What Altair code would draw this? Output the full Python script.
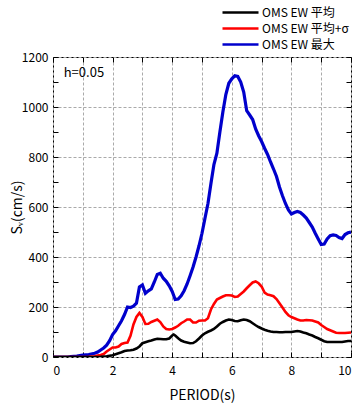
import altair as alt
import pandas as pd

series_names = ["OMS EW 平均", "OMS EW 平均+σ", "OMS EW 最大"]
series_colors = ["#000000", "#ff0000", "#0000cc"]

max_period = [0, 0.5, 0.6, 0.8, 1.0, 1.2, 1.4, 1.5, 1.6, 1.7, 1.8, 1.9, 2.0, 2.1, 2.2, 2.3, 2.4, 2.5,
              2.6, 2.7, 2.8, 2.9, 3.0, 3.1, 3.2, 3.3, 3.4, 3.5, 3.6, 3.7, 3.8, 3.9, 4.0, 4.1, 4.2, 4.3,
              4.4, 4.5, 4.6, 4.7, 4.8, 4.9, 5.0, 5.1, 5.2, 5.3, 5.4, 5.5, 5.6, 5.7, 5.8, 5.9, 6.0, 6.1,
              6.2, 6.3, 6.4, 6.5, 6.6, 6.7, 6.8, 6.9, 7.0, 7.1, 7.2, 7.3, 7.4, 7.5, 7.6, 7.7, 7.8, 7.9,
              8.0, 8.1, 8.2, 8.3, 8.4, 8.5, 8.6, 8.7, 8.8, 8.9, 9.0, 9.1, 9.2, 9.3, 9.4, 9.5, 9.6, 9.7,
              9.8, 9.9, 10.0]
max_sv = [0, 0, 2, 4, 8, 10, 15, 20, 28, 36, 47, 65, 90, 105, 125, 145, 170, 200,
          198, 203, 215, 280, 288, 255, 265, 272, 300, 330, 335, 315, 303, 285, 262, 230, 232, 245,
          265, 292, 325, 360, 400, 445, 495, 555, 614, 694, 770, 815, 900, 980, 1050, 1095, 1113, 1125,
          1122, 1100, 1060, 985, 968, 950, 912, 885, 862, 835, 810, 780, 752, 722, 680, 645, 614, 588,
          572, 578, 582, 578, 568, 556, 538, 520, 495, 472, 450, 452, 472, 485, 488, 486, 478, 474,
          490, 497, 500]

sig_period = [0, 1.0, 1.2, 1.4, 1.5, 1.6, 1.7, 1.8, 1.9, 2.0, 2.1, 2.2, 2.3, 2.4, 2.5, 2.6, 2.7, 2.8,
              2.9, 3.0, 3.1, 3.2, 3.3, 3.4, 3.5, 3.6, 3.7, 3.8, 3.9, 4.0, 4.1, 4.2, 4.3, 4.4, 4.5, 4.6,
              4.7, 4.8, 4.9, 5.0, 5.1, 5.2, 5.3, 5.4, 5.5, 5.6, 5.7, 5.8, 5.9, 6.0, 6.1, 6.2, 6.3, 6.4,
              6.5, 6.6, 6.7, 6.8, 6.9, 7.0, 7.1, 7.2, 7.3, 7.4, 7.5, 7.6, 7.7, 7.8, 7.9, 8.0, 8.1, 8.2,
              8.3, 8.4, 8.5, 8.6, 8.7, 8.8, 8.9, 9.0, 9.1, 9.2, 9.3, 9.4, 9.5, 9.6, 9.7, 9.8, 9.9, 10.0]
sig_sv = [0, 0, 1, 3, 6, 8, 12, 22, 30, 38, 38, 42, 52, 56, 58, 85, 130, 160,
          176, 160, 132, 133, 140, 145, 150, 140, 122, 112, 110, 112, 118, 125, 135, 142, 150, 150,
          138, 138, 145, 146, 146, 155, 190, 212, 230, 236, 242, 247, 247, 246, 240, 242, 252, 262,
          275, 287, 298, 302, 295, 282, 258, 250, 247, 243, 232, 215, 198, 180, 167, 160, 155, 150,
          146, 146, 148, 147, 146, 142, 138, 128, 120, 112, 107, 102, 97, 96, 96, 96, 97, 98]

mean_period = [0, 1.4, 1.6, 1.8, 2.0, 2.1, 2.2, 2.3, 2.4, 2.5, 2.6, 2.7, 2.8, 2.9, 3.0, 3.1, 3.2, 3.3,
               3.4, 3.5, 3.6, 3.7, 3.8, 3.9, 4.0, 4.05, 4.1, 4.2, 4.3, 4.4, 4.5, 4.6, 4.7, 4.8, 4.9, 5.0,
               5.1, 5.2, 5.3, 5.4, 5.5, 5.6, 5.7, 5.8, 5.9, 6.0, 6.1, 6.2, 6.3, 6.4, 6.5, 6.6, 6.7, 6.8,
               6.9, 7.0, 7.1, 7.2, 7.3, 7.4, 7.5, 7.6, 7.7, 7.8, 7.9, 8.0, 8.1, 8.2, 8.3, 8.4, 8.5, 8.6,
               8.7, 8.8, 8.9, 9.0, 9.1, 9.2, 9.3, 9.4, 9.5, 9.6, 9.7, 9.8, 9.9, 10.0]
mean_sv = [0, 0, 1, 3, 7, 11, 15, 19, 24, 26, 27, 29, 34, 42, 55, 59, 63, 66,
           70, 73, 72, 71, 71, 74, 86, 90, 86, 75, 66, 61, 58, 55, 56, 63, 74, 86,
           95, 101, 106, 112, 122, 133, 140, 146, 150, 148, 144, 143, 147, 150, 148, 143, 135, 127,
           120, 114, 109, 105, 102, 100, 100, 99, 99, 100, 100, 100, 102, 104, 102, 98, 95, 90,
           86, 80, 75, 69, 63, 60, 60, 60, 60, 60, 60, 62, 64, 64]

x_ticks = [0, 1, 2, 3, 4, 5, 6, 7, 8, 9, 10]
y_grid = [0, 200, 400, 600, 800, 1000, 1200]
y_ticks = [0, 100, 200, 300, 400, 500, 600, 700, 800, 900, 1000, 1100, 1200]

annotation = ["h=0.05"]
annotation_x = [0.36]
annotation_y = [1135]

FONT = "Noto Sans CJK JP"

df_max = pd.DataFrame({"period": max_period, "sv": max_sv, "series": series_names[2]})
df_sig = pd.DataFrame({"period": sig_period, "sv": sig_sv, "series": series_names[1]})
df_mean = pd.DataFrame({"period": mean_period, "sv": mean_sv, "series": series_names[0]})
df_ann = pd.DataFrame({"x": annotation_x, "y": annotation_y, "t": annotation})

xs = alt.Scale(domain=[0, 10], nice=False, zero=False)
ys = alt.Scale(domain=[0, 1200], nice=False)
color_scale = alt.Scale(domain=series_names, range=series_colors)

legend = alt.Legend(
    title=None, orient="none", legendX=180, legendY=-52, padding=0,
    symbolType="M-3,0H3", symbolSize=144, symbolStrokeWidth=2.5,
    labelFont=FONT, labelFontSize=12, labelColor="#000", labelOffset=14,
    rowPadding=2, symbolOffset=0,
)

x_main = alt.Axis(
    orient="bottom", values=x_ticks, ticks=False, domain=False,
    labelExpr="datum.value % 2 == 0 ? datum.label : ''",
    labelFont=FONT, labelFontSize=12, labelColor="#000", labelPadding=8,
    grid=True, gridColor="#aaaaaa", gridDash=[3, 2], gridWidth=1,
    title="PERIOD(s)", titleFont=FONT, titleFontSize=14, titleFontWeight="normal",
    titleColor="#000", titleY=38, titleBaseline="middle",
)
y_main = alt.Axis(
    orient="left", values=y_grid, ticks=False, domain=False, format="d",
    labelFont=FONT, labelFontSize=12, labelColor="#000", labelPadding=5,
    grid=True, gridColor="#aaaaaa", gridDash=[3, 2], gridWidth=1,
    title="Sᵥ(cm/s)", titleFont=FONT, titleFontSize=14, titleFontWeight="normal",
    titleColor="#000", titleX=-36, titleY=150, titleAngle=-90,
    titleAlign="center", titleBaseline="middle",
)


def tick_axis(orient, values, offset):
    return alt.Axis(orient=orient, values=values, offset=offset, labels=False, domain=False,
                    grid=False, ticks=True, tickSize=5, tickColor="#000", tickWidth=1, title=None)


def line(df, width, main=False):
    return alt.Chart(df).mark_line(strokeWidth=width, clip=True).encode(
        x=alt.X("period:Q", scale=xs, axis=x_main if main else None),
        y=alt.Y("sv:Q", scale=ys, axis=y_main if main else None),
        color=alt.Color("series:N", scale=color_scale, legend=legend, sort=series_names),
    )


ticks_a = alt.Chart(df_mean).mark_point(opacity=0).encode(
    x=alt.X("period:Q", scale=xs, axis=tick_axis("top", x_ticks, -300)),
    y=alt.Y("sv:Q", scale=ys, axis=tick_axis("right", y_ticks, -298)),
)
ticks_b = alt.Chart(df_mean).mark_point(opacity=0).encode(
    x=alt.X("period:Q", scale=xs, axis=tick_axis("bottom", x_ticks, -300)),
    y=alt.Y("sv:Q", scale=ys, axis=tick_axis("left", y_ticks, -298)),
)

ann = alt.Chart(df_ann).mark_text(align="left", baseline="middle", font=FONT, fontSize=13,
                                  color="#000").encode(
    x=alt.X("x:Q", scale=xs, axis=None),
    y=alt.Y("y:Q", scale=ys, axis=None),
    text="t:N",
)

chart = alt.layer(
    line(df_max, 3.2, main=True), line(df_sig, 2.6), line(df_mean, 2.6),
    ticks_a, ticks_b, ann,
).resolve_axis(x="independent", y="independent").properties(
    width=298, height=300,
    autosize=alt.AutoSizeParams(type="none"),
    padding={"left": 53, "top": 57, "right": 7, "bottom": 48},
    background="white",
).configure_view(stroke="#000", strokeWidth=1)

chart.save("out.html", embed_options={"renderer": "svg", "actions": False})
